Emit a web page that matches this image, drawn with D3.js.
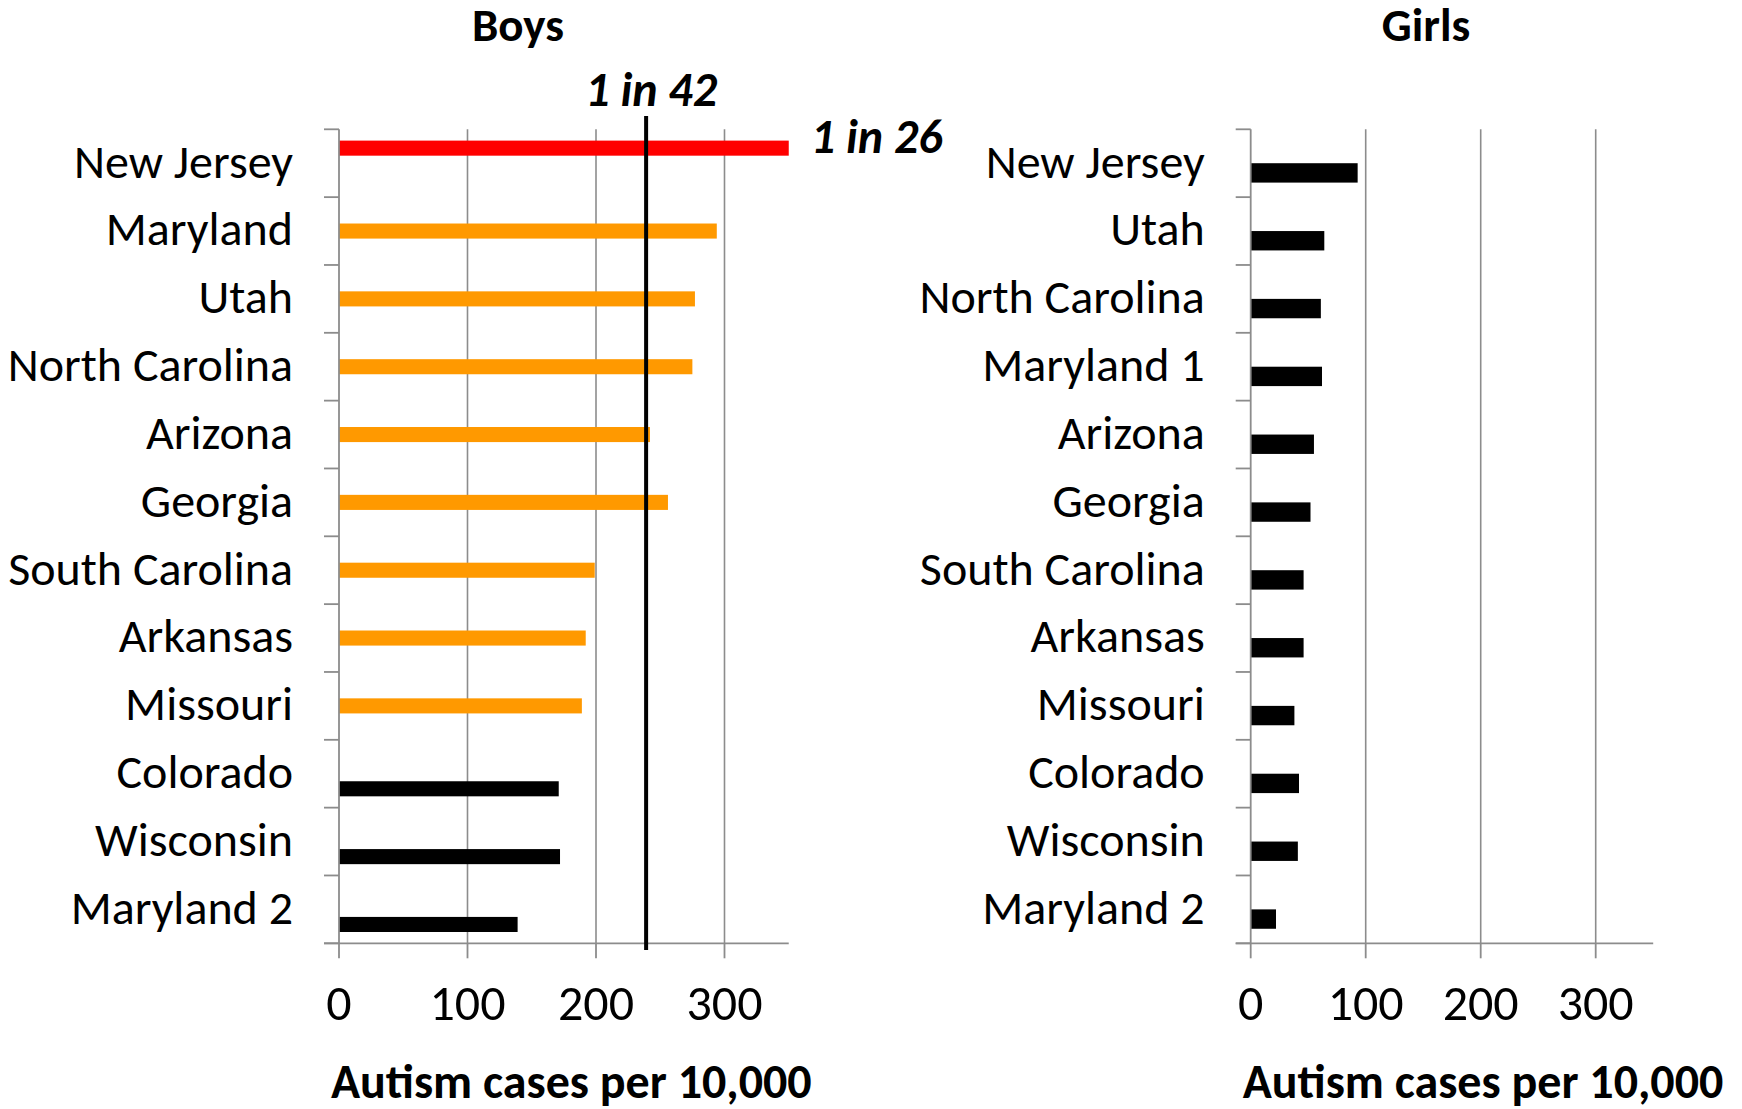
<!DOCTYPE html>
<html>
<head>
<meta charset="utf-8">
<script src="https://cdn.jsdelivr.net/npm/d3@7"></script>
<style>
  body { margin: 0; background: #fff; }
  svg { display: block; font-family: Calibri, Carlito, "Open Sans", sans-serif; }
</style>
</head>
<body>
<div id="chart"></div>
<script>
// data
const boysStates = ["New Jersey", "Maryland", "Utah", "North Carolina", "Arizona", "Georgia",
  "South Carolina", "Arkansas", "Missouri", "Colorado", "Wisconsin", "Maryland 2"];
const boysValues = [350, 294, 277, 275, 242, 256, 199, 192, 189, 171, 172, 139];
// which series each bar belongs to: 0 = red, 1 = orange, 2 = black
const boysSeries = [0, 1, 1, 1, 1, 1, 1, 1, 1, 2, 2, 2];
const boysColors = ["#ff0000", "#ff9900", "#000000"];

const girlsStates = ["New Jersey", "Utah", "North Carolina", "Maryland 1", "Arizona", "Georgia",
  "South Carolina", "Arkansas", "Missouri", "Colorado", "Wisconsin", "Maryland 2"];
const girlsValues = [93, 64, 61, 62, 55, 52, 46, 46, 38, 42, 41, 22];

const xTicks = [0, 100, 200, 300];
const xMax = 350;
const refLine = 239; // 1 in 42

const W = 1742, H = 1109;
const gray = "#8c8c8c";

const svg = d3.select("#chart").append("svg")
  .attr("width", W)
  .attr("height", H);

const plotTop = 129.3, plotBottom = 943.3;

function drawPanel(opts) {
  const x = d3.scaleLinear().domain([0, xMax]).range([opts.x0, opts.x0 + opts.pxPer100 * 3.5]);
  const pi = opts.nSeries === 3 ? 1 / 3 : 1.5 / 3.5;
  const y = d3.scaleBand()
    .domain(opts.states)
    .range([plotTop, plotBottom])
    .paddingInner(pi)
    .paddingOuter(pi / 2);
  const sub = d3.scaleBand()
    .domain(d3.range(opts.nSeries))
    .range([0, y.bandwidth()]);

  const g = svg.append("g");

  // gridlines
  g.selectAll(".grid")
    .data(xTicks.slice(1))
    .join("line")
    .attr("x1", (d) => x(d))
    .attr("x2", (d) => x(d))
    .attr("y1", plotTop)
    .attr("y2", plotBottom)
    .attr("stroke", gray)
    .attr("stroke-width", 1.6);

  // bars
  g.selectAll(".bar")
    .data(opts.states)
    .join("rect")
    .attr("x", x(0))
    .attr("y", (d, i) => y(d) + sub(opts.series[i]))
    .attr("width", (d, i) => x(opts.values[i]) - x(0))
    .attr("height", sub.bandwidth())
    .attr("fill", (d, i) => opts.colors[opts.series[i]]);

  // y axis (ticks on band edges)
  const step = y.step();
  const edges = d3.range(opts.states.length + 1).map((i) => plotTop + i * step);
  g.append("line")
    .attr("x1", x(0)).attr("x2", x(0))
    .attr("y1", plotTop).attr("y2", plotBottom)
    .attr("stroke", gray).attr("stroke-width", 1.8);
  g.selectAll(".ytick")
    .data(edges)
    .join("line")
    .attr("x1", x(0) - 15).attr("x2", x(0))
    .attr("y1", (d) => d).attr("y2", (d) => d)
    .attr("stroke", gray).attr("stroke-width", 1.8);

  // category labels
  g.selectAll(".ylab")
    .data(opts.states)
    .join("text")
    .attr("x", x(0) - 46)
    .attr("y", (d) => y(d) - step * pi / 2 + step / 2)
    .attr("dy", "0.3em")
    .attr("text-anchor", "end")
    .style("font-size", "48px")
    .style("fill", "#000")
    .text((d) => d);

  // x axis
  g.append("line")
    .attr("x1", x(0) - 15).attr("x2", x(xMax))
    .attr("y1", plotBottom).attr("y2", plotBottom)
    .attr("stroke", gray).attr("stroke-width", 1.8);
  g.selectAll(".xtick")
    .data(xTicks)
    .join("line")
    .attr("x1", (d) => x(d)).attr("x2", (d) => x(d))
    .attr("y1", plotBottom).attr("y2", plotBottom + 15)
    .attr("stroke", gray).attr("stroke-width", 1.8);
  g.selectAll(".xlab")
    .data(xTicks)
    .join("text")
    .attr("x", (d) => x(d))
    .attr("y", 1020)
    .attr("text-anchor", "middle")
    .style("font-size", "50px")
    .text((d) => d);

  // axis title
  g.append("text")
    .attr("x", x(0) - 8)
    .attr("y", 1098)
    .style("font-size", "48px")
    .style("font-weight", "bold")
    .text("Autism cases per 10,000");

  // panel title
  g.append("text")
    .attr("x", opts.titleX)
    .attr("y", 41)
    .attr("text-anchor", "middle")
    .style("font-size", "47px")
    .style("font-weight", "bold")
    .text(opts.title);

  return { x, y };
}

const boys = drawPanel({
  states: boysStates, values: boysValues, series: boysSeries, colors: boysColors,
  nSeries: 3, x0: 339, pxPer100: 128.5, title: "Boys", titleX: 518
});

drawPanel({
  states: girlsStates, values: girlsValues, series: girlsValues.map(() => 1), colors: ["#000", "#000"],
  nSeries: 2, x0: 1250.7, pxPer100: 115, title: "Girls", titleX: 1426
});

// 1 in 42 reference line
svg.append("line")
  .attr("x1", boys.x(refLine)).attr("x2", boys.x(refLine))
  .attr("y1", 116).attr("y2", 950)
  .attr("stroke", "#000").attr("stroke-width", 4);

svg.append("text")
  .attr("x", boys.x(refLine) + 5)
  .attr("y", 106)
  .attr("text-anchor", "middle")
  .style("font-size", "48px")
  .style("font-weight", "bold")
  .style("font-style", "italic")
  .text("1 in 42");

svg.append("text")
  .attr("x", boys.x(xMax) + 22)
  .attr("y", 153)
  .style("font-size", "48px")
  .style("font-weight", "bold")
  .style("font-style", "italic")
  .text("1 in 26");
</script>
</body>
</html>
